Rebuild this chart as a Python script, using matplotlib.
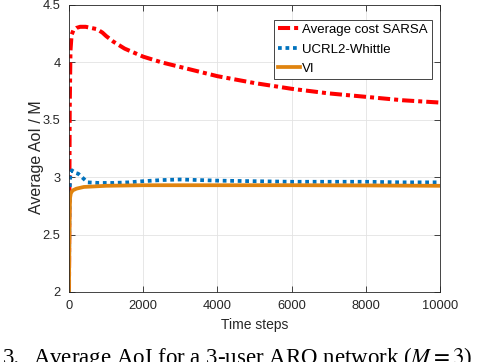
import matplotlib

matplotlib.use("Agg")
import matplotlib.pyplot as plt

# Average cost SARSA
sarsa_x = [0, 10, 20, 40, 70, 120, 200, 300, 450, 600, 750, 900, 1000, 1200, 1500,
           2000, 2500, 3000, 3500, 4000, 5000, 6000, 7000, 8000, 9000, 10000]
sarsa_y = [2.0, 2.8, 3.6, 4.1, 4.24, 4.28, 4.30, 4.31, 4.31, 4.30, 4.29, 4.26, 4.23, 4.18, 4.12,
           4.05, 4.0, 3.96, 3.92, 3.88, 3.82, 3.77, 3.73, 3.70, 3.67, 3.65]

# UCRL2-Whittle
ucrl_x = [0, 10, 20, 40, 80, 150, 250, 350, 500, 800, 1200, 1600, 2000, 2500, 3000,
          3500, 4000, 5000, 6000, 7000, 8000, 9000, 10000]
ucrl_y = [2.0, 2.6, 2.9, 3.04, 3.06, 3.04, 3.03, 3.0, 2.955, 2.95, 2.95, 2.955, 2.965, 2.975, 2.98,
          2.975, 2.97, 2.965, 2.96, 2.96, 2.96, 2.955, 2.955]

# VI
vi_x = [0, 10, 20, 30, 50, 100, 200, 400, 700, 1000, 2000, 3000, 4000, 6000, 8000, 10000]
vi_y = [2.0, 2.4, 2.7, 2.82, 2.86, 2.885, 2.90, 2.915, 2.92, 2.925, 2.93, 2.93, 2.93, 2.93, 2.928, 2.925]

xticks = [0, 2000, 4000, 6000, 8000, 10000]
yticks = [2, 2.5, 3, 3.5, 4, 4.5]

plt.rcParams["font.family"] = "Liberation Sans"
plt.rcParams["mathtext.fontset"] = "stix"

dark = "#262626"
fig = plt.figure(figsize=(4.8, 3.62), dpi=100)
ax = fig.add_axes([0.1437, 0.1934, 0.773, 0.7928])

ax.plot(sarsa_x, sarsa_y, color="#ff0000", lw=2.9, linestyle=(0, (3, 1, 1, 1)),
        label="Average cost SARSA")
ax.plot(ucrl_x, ucrl_y, color="#0072bd", lw=2.7, linestyle=(0, (1, 1)),
        label="UCRL2-Whittle")
ax.plot(vi_x, vi_y, color="#e0840f", lw=2.7, label="VI")

ax.set_xlim(0, 10000)
ax.set_ylim(2, 4.5)
ax.set_xticks(xticks)
ax.set_yticks(yticks)
ax.set_xticklabels([str(t) for t in xticks])
ax.set_yticklabels([f"{t:g}" for t in yticks])
ax.grid(True, color="#e3e3e3", lw=0.6)
ax.set_axisbelow(True)
ax.tick_params(direction="in", length=4, width=0.6, colors=dark, labelsize=9.3,
               top=True, right=True, pad=6)
for s in ax.spines.values():
    s.set_color(dark)
    s.set_linewidth(0.6)

ax.set_xlabel("Time steps", fontsize=10, color=dark, labelpad=4)
ax.set_ylabel("Average AoI / M", fontsize=11.5, color=dark)
ax.yaxis.set_label_coords(-0.068, 0.47)

leg = ax.legend(loc="upper right", bbox_to_anchor=(0.978, 0.948), fontsize=9.5,
                fancybox=False, framealpha=1, edgecolor=dark, handlelength=1.7,
                handletextpad=0.15, borderpad=0.3, labelspacing=0.55, borderaxespad=0)
leg.get_frame().set_linewidth(0.6)

# caption of the paper, cut off at the bottom edge
cap_y = -2 / 362
fig.text(3 / 480, cap_y, "3.", family="Liberation Serif", fontsize=16.5, va="baseline")
fig.text(33 / 480, cap_y, "Average AoI for a 3-user ARQ network ($M = 3$)",
         family="Liberation Serif", fontsize=16.5, va="baseline")

fig.savefig("out.png", dpi=100)
plt.close(fig)
